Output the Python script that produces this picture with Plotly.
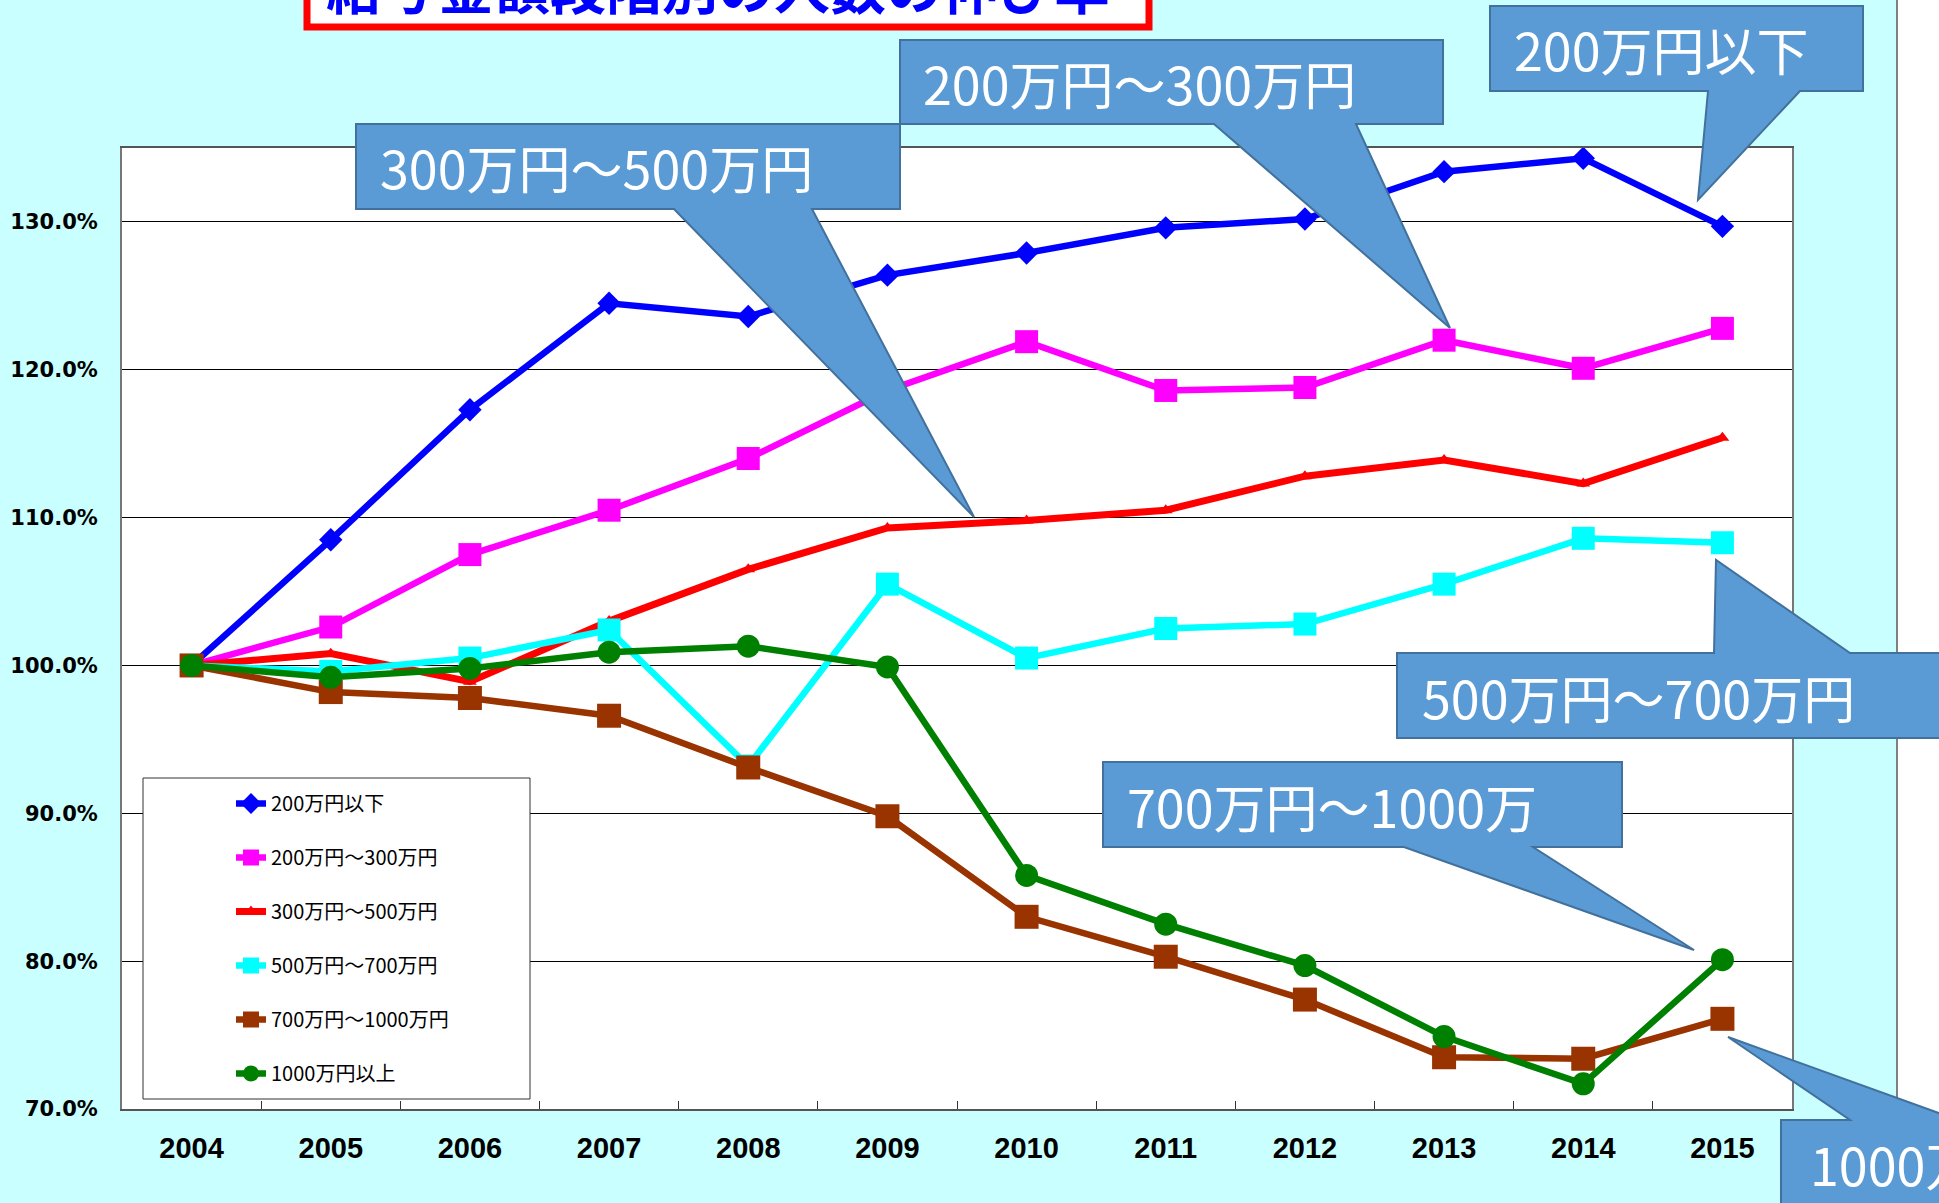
import plotly.graph_objects as go

# --- data (% of 2004 level) ---
years = ["2004", "2005", "2006", "2007", "2008", "2009",
         "2010", "2011", "2012", "2013", "2014", "2015"]

le200 = [100.0, 108.5, 117.3, 124.5, 123.6, 126.4, 127.9, 129.6, 130.2, 133.4, 134.3, 129.7]
r200_300 = [100.0, 102.6, 107.5, 110.5, 114.0, 118.6, 121.9, 118.6, 118.8, 122.0, 120.1, 122.8]
r300_500 = [100.0, 100.8, 98.9, 103.0, 106.5, 109.3, 109.8, 110.5, 112.8, 113.9, 112.3, 115.4]
r500_700 = [100.0, 99.6, 100.5, 102.4, 93.2, 105.5, 100.5, 102.5, 102.8, 105.5, 108.6, 108.3]
r700_1000 = [100.0, 98.2, 97.8, 96.6, 93.1, 89.8, 83.0, 80.3, 77.4, 73.5, 73.4, 76.1]
ge1000 = [100.0, 99.2, 99.8, 100.9, 101.3, 99.9, 85.8, 82.5, 79.7, 74.9, 71.7, 80.1]

names = ["200万円以下", "200万円～300万円", "300万円～500万円",
         "500万円～700万円", "700万円～1000万円", "1000万円以上"]
series = [le200, r200_300, r300_500, r500_700, r700_1000, ge1000]

y_ticks = [70, 80, 90, 100, 110, 120, 130]
y_ticktext = ["70.0%", "80.0%", "90.0%", "100.0%", "110.0%", "120.0%", "130.0%"]
title_text = "給与金額段階別の人数の伸び率"

# --- page geometry helpers (pixel -> paper) ---
W, H = 1939, 1203
M_L, M_R, M_T, M_B = 122, 147, 148, 94
PW = W - M_L - M_R
PH = H - M_T - M_B


def px(x):
    return (x - M_L) / PW


def py(y):
    return (H - M_B - y) / PH


def poly(points):
    return "M " + " L ".join(f"{px(x):.5f},{py(y):.5f}" for x, y in points) + " Z"


styles = [
    dict(color="#0000FF", symbol="diamond", size=18, width=6.5),
    dict(color="#FF00FF", symbol="square", size=23, width=6.5),
    dict(color="#FF0000", symbol="triangle-up", size=12, width=7),
    dict(color="#00FFFF", symbol="square", size=23, width=6.5),
    dict(color="#993300", symbol="square", size=24, width=6.5),
    dict(color="#008000", symbol="circle", size=23, width=6.5),
]

fig = go.Figure()

for i, (name, vals, st) in enumerate(zip(names, series, styles)):
    fig.add_trace(
        go.Scatter(
            x=years,
            y=vals,
            mode="lines+markers",
            name=name,
            legendgroup=f"g{i}",
            line=dict(color=st["color"], width=st["width"]),
            marker=dict(symbol=st["symbol"], size=st["size"], color=st["color"]),
        )
    )

# --- callouts (box + pointer tail, pixel coords) ---
callouts = [
    ("300万円～500万円", 378, 166,
     [(356, 124), (900, 124), (900, 209), (812, 209), (974, 517), (674, 209), (356, 209)]),
    ("200万円～300万円", 921, 82,
     [(900, 40), (1443, 40), (1443, 124), (1356, 124), (1450, 328), (1214, 124), (900, 124)]),
    ("200万円以下", 1512, 48,
     [(1490, 6), (1863, 6), (1863, 91), (1800, 91), (1698, 200), (1708, 91), (1490, 91)]),
    ("500万円～700万円", 1420, 696,
     [(1397, 653), (1714, 653), (1716, 560), (1850, 653), (1970, 653), (1970, 738), (1397, 738)]),
    ("700万円～1000万", 1125, 805,
     [(1103, 762), (1622, 762), (1622, 847), (1533, 847), (1694, 950), (1404, 847), (1103, 847)]),
    ("1000万円以上", 1808, 1163,
     [(1781, 1120), (1850, 1120), (1728, 1037), (1958, 1120), (1970, 1120), (1970, 1230), (1781, 1230)]),
]

shapes = [
    # white strip at the right edge of the slide
    dict(type="rect", xref="paper", yref="paper", layer="above",
         x0=px(1897), x1=px(1960), y0=py(1230), y1=py(-20),
         fillcolor="white", line=dict(width=0)),
    dict(type="line", xref="paper", yref="paper", layer="above",
         x0=px(1897), x1=px(1897), y0=py(1230), y1=py(-20),
         line=dict(color="#808080", width=2)),
    # legend box
    dict(type="rect", xref="paper", yref="paper", layer="above",
         x0=px(143), x1=px(530), y0=py(1099), y1=py(778),
         fillcolor="white", line=dict(color="#333333", width=1)),
]

annotations = []
for text, tx, ty, pts in callouts:
    shapes.append(dict(type="path", xref="paper", yref="paper", layer="above",
                       path=poly(pts), fillcolor="#5B9BD5",
                       line=dict(color="#41719C", width=2)))
    annotations.append(dict(text=text, xref="paper", yref="paper",
                            x=px(tx), y=py(ty), xanchor="left", yanchor="middle",
                            showarrow=False,
                            font=dict(family="Noto Sans CJK JP", size=52, color="white")))

# --- title box, mostly cut off by the top of the page ---
shapes.append(dict(type="rect", xref="paper", yref="paper", layer="above",
                   x0=px(307), x1=px(1149), y0=py(27), y1=py(-120),
                   fillcolor="white", line=dict(color="#FF0000", width=7)))
annotations.append(dict(text=title_text, xref="paper", yref="paper",
                        x=px(718), y=py(-16), xanchor="center", yanchor="middle",
                        showarrow=False,
                        font=dict(family="Noto Sans CJK JP", size=56, color="#0000FF",
                                  weight="bold")))

# --- layout ---
fig.update_layout(
    width=W,
    height=H,
    margin=dict(l=M_L, r=M_R, t=M_T, b=M_B, autoexpand=False),
    paper_bgcolor="#C9FFFF",
    plot_bgcolor="white",
    showlegend=True,
    legend=dict(
        x=px(231), y=py(784), xanchor="left", yanchor="top",
        bgcolor="rgba(0,0,0,0)", borderwidth=0,
        font=dict(family="Noto Sans CJK JP", size=20, color="black"),
        tracegroupgap=25,
        traceorder="grouped",
    ),
    shapes=shapes,
    annotations=annotations,
)

fig.update_xaxes(
    type="category",
    range=[-0.5, 11.5],
    automargin=False,
    showgrid=False,
    showline=True, mirror=True, linecolor="#555555", linewidth=2,
    ticks="inside", tickson="boundaries", ticklen=8, tickcolor="#333333",
    ticklabelstandoff=12,
    tickfont=dict(family="Liberation Sans", size=29, color="black", weight="bold"),
)

fig.update_yaxes(
    range=[70, 135],
    automargin=False,
    tickvals=y_ticks,
    ticktext=y_ticktext,
    showgrid=True, gridcolor="black", gridwidth=1,
    showline=True, mirror=True, linecolor="#777777", linewidth=2,
    zeroline=False,
    ticks="",
    ticklabelstandoff=18,
    tickfont=dict(family="DejaVu Sans", size=21, color="black", weight="bold"),
)

fig.write_html("out.html", config={"displayModeBar": False},
               post_script="document.body.style.margin='0';")
